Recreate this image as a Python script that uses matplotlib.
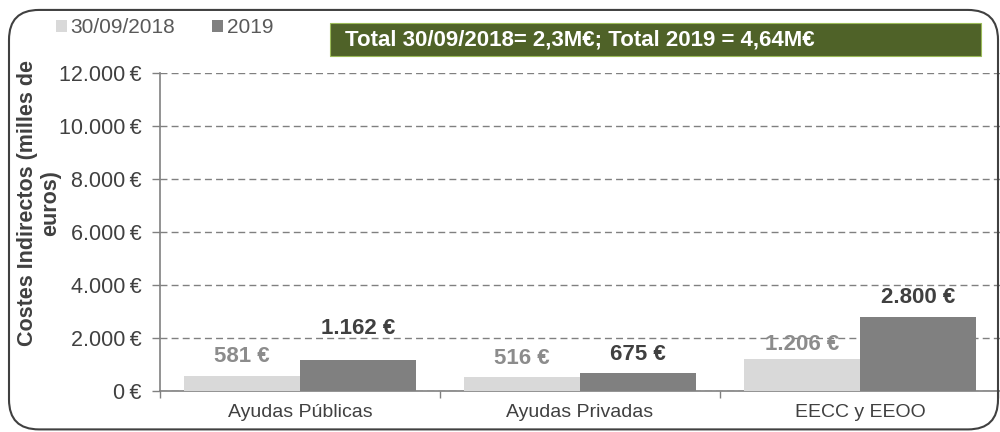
import matplotlib.pyplot as plt
import numpy as np
from matplotlib.patches import FancyBboxPatch, Rectangle

plt.rcParams['font.family'] = ['Liberation Sans', 'DejaVu Sans']

# datos
categorias = ['Ayudas Públicas', 'Ayudas Privadas', 'EECC y EEOO']
valores_2018 = [581, 516, 1206]
valores_2019 = [1162, 675, 2800]
etiquetas_2018 = ['581 €', '516 €', '1.206 €']
etiquetas_2019 = ['1.162 €', '675 €', '2.800 €']
ticks_y = [0, 2000, 4000, 6000, 8000, 10000, 12000]
etiquetas_y = ['0\u2009€', '2.000\u2009€', '4.000\u2009€', '6.000\u2009€', '8.000\u2009€',
               '10.000\u2009€', '12.000\u2009€']

# separacion de las etiquetas sobre las barras (puntos)
desplaz_2018 = [6, 6, 3]
desplaz_2019 = [15, 6, 6]

c_claro = '#d9d9d9'
c_oscuro = '#808080'
c_texto = '#404040'

fig = plt.figure(figsize=(10, 4.32), dpi=100)

# marco redondeado
marco = FancyBboxPatch((0.009, 0.006), 0.989, 0.971, boxstyle='round,pad=0,rounding_size=0.03',
                       transform=fig.transFigure, fill=False, edgecolor=c_texto, linewidth=1.5,
                       mutation_aspect=2.3)
fig.patches.append(marco)

ax = fig.add_axes([0.16, 0.0949, 0.84, 0.736])
x = np.arange(len(categorias))
w = 0.414
ax.bar(x - w / 2, valores_2018, w, color=c_claro, label='30/09/2018', zorder=3)
ax.bar(x + w / 2, valores_2019, w, color=c_oscuro, label='2019', zorder=3)

for i in range(len(categorias)):
    ax.annotate(etiquetas_2018[i], (x[i] - w / 2, valores_2018[i]), xytext=(0, desplaz_2018[i]),
                textcoords='offset points', ha='center', va='bottom', fontsize=16,
                fontweight='bold', color='#8c8c8c', zorder=4)
    ax.annotate(etiquetas_2019[i], (x[i] + w / 2, valores_2019[i]), xytext=(0, desplaz_2019[i]),
                textcoords='offset points', ha='center', va='bottom', fontsize=16,
                fontweight='bold', color=c_texto, zorder=4)

ax.set_xlim(-0.5, 2.5)
ax.set_ylim(0, 12000)
ax.set_yticks(ticks_y)
ax.set_yticklabels(etiquetas_y, fontsize=15.5, color=c_texto)
ax.set_xticks(x)
ax.set_xticklabels(categorias, fontsize=14, color=c_texto)
ax.set_xticks([-0.5, 0.5, 1.5, 2.5], minor=True)
ax.tick_params(axis='x', which='major', length=0, pad=9)
ax.tick_params(axis='x', which='minor', length=5, color=c_oscuro, width=1)
ax.tick_params(axis='y', length=6, color=c_oscuro, width=1, pad=7)

ax.yaxis.grid(True, linestyle=(0, (5, 3)), color=c_oscuro, linewidth=1, zorder=0)
for s in ['top', 'right']:
    ax.spines[s].set_visible(False)
for s in ['left', 'bottom']:
    ax.spines[s].set_color(c_oscuro)
    ax.spines[s].set_linewidth(1.2)

fig.text(0.039, 0.53, 'Costes Indirectos (milles de\neuros)', rotation=90, ha='center', va='center',
         fontsize=15.5, fontweight='bold', color=c_texto, linespacing=1.1)

ax.legend(loc='upper left', bbox_to_anchor=(0.039, 0.997), bbox_transform=fig.transFigure,
          ncol=2, frameon=False, fontsize=15, handlelength=0.52, handleheight=0.52,
          handletextpad=0.2, columnspacing=1.75, labelcolor='#595959', borderpad=0.3)

# caja verde con totales
fig.patches.append(Rectangle((0.330, 1 - 56 / 432), 0.651, 33 / 432, transform=fig.transFigure,
                             facecolor='#4f6228', edgecolor='#9bbb59', linewidth=0.8))
fig.text(0.345, 1 - 40 / 432, 'Total 30/09/2018= 2,3M€; Total 2019 = 4,64M€', ha='left', va='center',
         fontsize=16, fontweight='bold', color='white')

fig.savefig('out.png', dpi=100)
